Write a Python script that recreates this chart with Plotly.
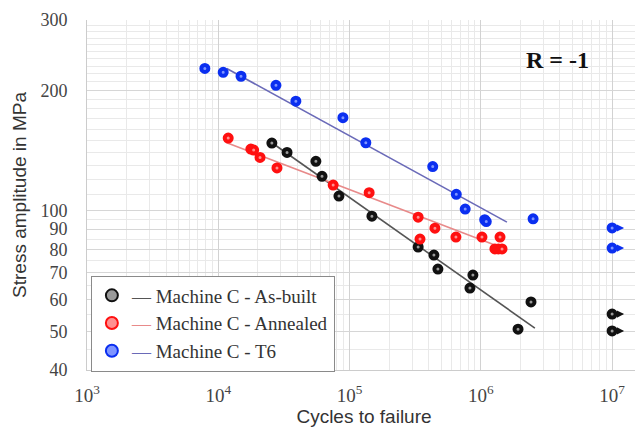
import numpy as np
import plotly.graph_objects as go

# ---------------- data ----------------
asbuilt_cycles = [2.56e4, 3.34e4, 5.54e4, 6.17e4, 8.3e4, 1.48e5, 3.33e5, 4.39e5,
                  4.71e5, 8.7e5, 8.26e5, 1.92e6, 2.41e6, 1e7, 1e7]
asbuilt_stress = [147.7, 140, 133, 122, 108.9, 97, 81.2, 77.5,
                  71.5, 69.1, 64.1, 50.6, 59.2, 55.2, 50.1]

annealed_cycles = [1.19e4, 1.77e4, 1.86e4, 2.08e4, 2.8e4, 7.5e4, 1.41e5, 3.33e5,
                   4.47e5, 3.44e5, 6.46e5, 1.02e6, 1.4e6, 1.28e6, 1.36e6, 1.45e6]
annealed_stress = [152, 142.7, 141.9, 136, 128, 116, 111, 96.4,
                   90.5, 85, 86, 86, 86, 80.3, 80.3, 80.3]

t6_cycles = [7.9e3, 1.09e4, 1.49e4, 2.75e4, 3.9e4, 8.9e4, 1.33e5, 4.3e5,
             6.5e5, 7.6e5, 1.07e6, 1.1e6, 2.5e6, 1e7, 1e7]
t6_stress = [227, 222, 217, 206, 188, 171, 148, 129,
             110, 101, 95, 94, 95.5, 90.6, 80.7]

# fitted S-N lines (end points)
asbuilt_fit_cycles = [2.56e4, 2.58e6]
asbuilt_fit_stress = [148, 50.9]
annealed_fit_cycles = [1.16e4, 1.4e6]
annealed_fit_stress = [148, 81.2]
t6_fit_cycles = [1.16e4, 1.58e6]
t6_fit_stress = [227, 93.7]

# run-outs (no failure at 1e7 cycles)
runout_cycles = 1e7
asbuilt_runout = [55.2, 50.1]
t6_runout = [90.6, 80.7]

names = ["Machine C - As-built", "Machine C - Annealed", "Machine C - T6"]
x_tickvals = [1e3, 1e4, 1e5, 1e6, 1e7]
x_ticktext = ["10<sup>3</sup>", "10<sup>4</sup>", "10<sup>5</sup>", "10<sup>6</sup>", "10<sup>7</sup>"]
y_tickvals = [40, 50, 60, 70, 80, 90, 100, 200, 300]
y_minor = [45, 55, 65, 75, 85, 95] + list(range(110, 200, 10)) + list(range(210, 300, 10))

# ---------------- styles ----------------
SERIF = "Liberation Serif"
SANS = "Liberation Sans"
series = [
    (asbuilt_cycles, asbuilt_stress, asbuilt_fit_cycles, asbuilt_fit_stress,
     "#111111", "#9a9a9a", "#555555", names[0]),
    (annealed_cycles, annealed_stress, annealed_fit_cycles, annealed_fit_stress,
     "#ff1010", "#ff9090", "#e88a8a", names[1]),
    (t6_cycles, t6_stress, t6_fit_cycles, t6_fit_stress,
     "#0b2ff0", "#7f95ff", "#6a6ab8", names[2]),
]

fig = go.Figure()

for xs, ys, fx, fy, col, fill, lcol, nm in series:
    fig.add_trace(go.Scatter(
        x=fx, y=fy, mode="lines", line=dict(color=lcol, width=1.6),
        showlegend=False, hoverinfo="skip"))

for xs, ys, fx, fy, col, fill, lcol, nm in series:
    fig.add_trace(go.Scatter(
        x=xs, y=ys, mode="markers",
        marker=dict(size=7, color=fill, line=dict(color=col, width=4)),
        name=f"<span style='color:{lcol}'>\u2014</span> {nm}"))

annotations = []
for vals, col in [(asbuilt_runout, "#111111"), (t6_runout, "#0b2ff0")]:
    for v in vals:
        annotations.append(dict(
            x=np.log10(runout_cycles), y=np.log10(v), xref="x", yref="y",
            text="", showarrow=True, ax=-7, ay=0, xshift=12,
            arrowhead=2, arrowsize=0.8, arrowwidth=1.8, arrowcolor=col))

annotations.append(dict(
    x=0.85, y=0.886, xref="paper", yref="paper", text="<b>R = -1</b>",
    xanchor="center", yanchor="middle",
    showarrow=False, font=dict(family=SERIF, size=24, color="#111111")))

# the page adds an 8 px body margin, so the figure is sized to fit the window
fig.update_layout(
    width=635, height=420,
    margin=dict(l=79, r=2, t=12, b=58),
    paper_bgcolor="white", plot_bgcolor="white",
    annotations=annotations,
    legend=dict(
        x=0.007, y=0.27, xanchor="left", yanchor="top",
        bgcolor="white", bordercolor="#8a8a8a", borderwidth=1,
        font=dict(family=SERIF, size=19, color="#333333"),
        tracegroupgap=0, itemsizing="constant"),
    xaxis=dict(
        type="log", range=[3, 7.22], automargin=False,
        tickvals=x_tickvals, ticktext=x_ticktext,
        tickfont=dict(family=SERIF, size=19, color="#444444"),
        ticks="", ticklabelstandoff=8,
        showgrid=True, gridcolor="#d2d2d2", gridwidth=1,
        showline=True, linecolor="#cccccc", zeroline=False,
        minor=dict(dtick="D1", showgrid=True, gridcolor="#e9e9e9", ticks=""),
        title=dict(text="Cycles to failure", standoff=4,
                   font=dict(family=SANS, size=19, color="#333333")),
    ),
    yaxis=dict(
        type="log", range=[np.log10(40), np.log10(300)], automargin=False,
        tickvals=y_tickvals, ticktext=[str(v) for v in y_tickvals],
        tickfont=dict(family=SERIF, size=18, color="#444444"),
        ticks="", ticklabelstandoff=15,
        showgrid=True, gridcolor="#d6d6d6", gridwidth=1,
        showline=True, linecolor="#cccccc", zeroline=False,
        minor=dict(tickvals=y_minor, showgrid=True, gridcolor="#e9e9e9", ticks=""),
        title=dict(text="Stress amplitude in MPa", standoff=8,
                   font=dict(family=SANS, size=19, color="#333333")),
    ),
)

fig.write_html("out.html")
